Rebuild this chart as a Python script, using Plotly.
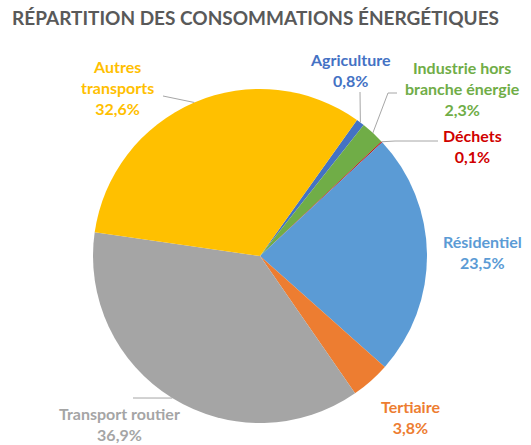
import math
import plotly.graph_objects as go

# ---- data ----
categories = ["Agriculture", "Industrie hors branche énergie", "Déchets", "Résidentiel",
              "Tertiaire", "Transport routier", "Autres transports"]
values = [0.8, 2.3, 0.1, 23.5, 3.8, 36.9, 32.6]
value_labels = ["0,8%", "2,3%", "0,1%", "23,5%", "3,8%", "36,9%", "32,6%"]
label_lines = [["Agriculture"], ["Industrie hors", "branche énergie"], ["Déchets"], ["Résidentiel"],
               ["Tertiaire"], ["Transport routier"], ["Autres", "transports"]]
colors = ["#4472C4", "#70AD47", "#C00000", "#5B9BD5", "#ED7D31", "#A5A5A5", "#FFC000"]
text_colors = ["#4472C4", "#70AD47", "#D00000", "#5B9BD5", "#ED7D31", "#A5A5A5", "#FFC000"]
title = "RÉPARTITION DES CONSOMMATIONS ÉNERGÉTIQUES"

W, H = 531, 445
CX, CY, R = 260, 256, 167
ROT = 35.5
FONT = "Lato"

def px(x):
    return x / W

def py(y):
    return 1 - y / H

fig = go.Figure(go.Pie(
    labels=categories, values=values, sort=False, direction="clockwise", rotation=ROT,
    marker=dict(colors=colors, line=dict(width=0)), textinfo="none", hoverinfo="label+percent",
    domain=dict(x=[px(CX - R), px(CX + R)], y=[py(CY + R), py(CY - R)]),
    showlegend=False,
))

# label positions (pixel centres of text blocks) and leader-line outer points
label_pos = [(350, 70), (462, 89), (472, 146), (482, 252), (410, 417), (119, 424), (117, 87)]
leader_out = [[(360, 92)], [(388, 93), (397, 93)], [(395, 141), (438, 141)], None, None,
              [(133, 398)], [(163, 96)]]

total = sum(values)
cum = 0
annotations = []
shapes = []
for i, v in enumerate(values):
    mid = ROT + (cum + v / 2) / total * 360
    cum += v
    a = math.radians(mid)
    ex, ey = CX + R * math.sin(a), CY - R * math.cos(a)
    lx, ly = label_pos[i]
    text = "<br>".join(label_lines[i] + [value_labels[i]])
    annotations.append(dict(
        x=px(lx), y=py(ly), xref="paper", yref="paper", text=text, showarrow=False,
        font=dict(family=FONT, size=16, color=text_colors[i], weight="bold"),
        xanchor="center", yanchor="middle", align="center"))
    if leader_out[i]:
        pts = [(ex, ey)] + leader_out[i]
        path = "M " + " L ".join(f"{px(x)},{py(y)}" for x, y in pts)
        shapes.append(dict(type="path", path=path, xref="paper", yref="paper",
                           line=dict(color="#A6A6A6", width=1)))

fig.update_layout(
    width=W, height=H, margin=dict(l=0, r=0, t=0, b=0),
    paper_bgcolor="white", plot_bgcolor="white",
    title=dict(text=title, x=12 / W, xanchor="left", y=1 - 18 / H, yanchor="middle",
               xref="paper", yref="container",
               font=dict(family=FONT, size=19, color="#595959", weight="bold")),
    annotations=annotations, shapes=shapes,
)

fig.write_html("out.html", config={"displayModeBar": False},
               post_script="document.body.style.margin='0';")
